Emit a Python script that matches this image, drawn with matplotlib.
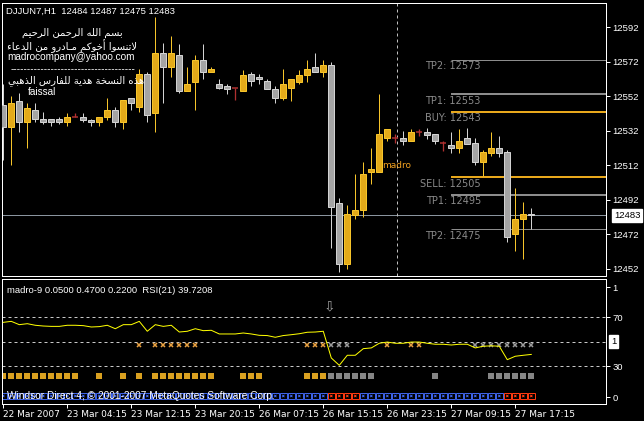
import matplotlib
matplotlib.use('Agg')
from matplotlib import pyplot as plt
import numpy as np

W, H = 644, 421

# hourly bars, DJJUN7 H1
opens  = [12547, 12534, 12549, 12537, 12544, 12539, 12539, 12539, 12537, 12540,
          12540, 12538, 12537, 12540, 12544, 12537, 12551, 12546, 12565, 12542,
          12577, 12569, 12576, 12555, 12560, 12573, 12566, 12559, 12558, 12557,
          12555, 12565, 12563, 12561, 12556, 12551, 12557, 12560, 12564, 12569,
          12566, 12570, 12490, 12455, 12483, 12486, 12508, 12508, 12528, 12528,
          12528, 12526, 12531, 12531.5, 12530, 12525, 12524, 12522, 12527.5, 12525,
          12514, 12519, 12522, 12519.5, 12472, 12481, 12484]
highs  = [12559, 12552, 12554, 12548, 12548, 12543, 12539, 12540, 12542, 12542,
          12542, 12539, 12540, 12551, 12546, 12550, 12551, 12568, 12566, 12598,
          12583, 12587, 12582, 12569, 12576, 12582, 12569, 12562, 12559, 12557,
          12567, 12566, 12565, 12562, 12558, 12568, 12562, 12567, 12573, 12577,
          12573, 12572, 12493, 12489, 12507, 12514, 12522, 12553, 12533, 12530,
          12532, 12533, 12533, 12533.5, 12530, 12526, 12531, 12533, 12533.5, 12527.5,
          12521, 12531, 12529, 12521, 12499, 12490.5, 12487]
lows   = [12515, 12512, 12531, 12522, 12537, 12536, 12535, 12536, 12535, 12540,
          12537, 12535, 12535, 12538, 12534, 12533, 12544, 12543, 12537, 12531,
          12548, 12563, 12554, 12555, 12544, 12562, 12566, 12556, 12553, 12550,
          12555, 12558, 12559, 12556, 12548, 12550, 12549, 12559, 12560, 12566,
          12563, 12464, 12450, 12452, 12481, 12482, 12501, 12508, 12526, 12525,
          12524, 12526, 12529, 12527, 12524.5, 12520, 12519, 12519, 12524.5, 12512,
          12506, 12517.5, 12516.5, 12467.5, 12462, 12457.5, 12475]
closes = [12534, 12548, 12537, 12545, 12539, 12537, 12537, 12537, 12540, 12540,
          12538, 12537, 12540, 12544, 12537, 12550, 12548, 12565, 12541, 12577,
          12569, 12577, 12555, 12559, 12573, 12566, 12568, 12557, 12556, 12557,
          12564, 12561, 12562, 12556, 12551, 12559, 12562, 12564, 12568, 12566,
          12570, 12488, 12455, 12484, 12486, 12507, 12510, 12530, 12533, 12528,
          12526, 12531, 12531, 12529.5, 12526, 12525, 12522, 12526, 12524.5, 12514,
          12519.5, 12522, 12519, 12470.5, 12481, 12483.5, 12483]

rsi = [65.9, 66.7, 64.0, 64.8, 63.5, 62.9, 62.6, 62.6, 63.5, 63.5,
       63.2, 62.1, 62.4, 63.5, 60.7, 64.0, 64.0, 66.7, 58.6, 64.0,
       62.6, 63.5, 58.0, 58.6, 60.7, 59.1, 59.4, 56.4, 56.4, 56.4,
       57.2, 56.4, 55.3, 55.1, 53.7, 55.1, 55.8, 56.6, 57.8, 58.0,
       58.6, 36.8, 30.8, 39.0, 39.0, 44.4, 45.0, 48.8, 49.8, 48.8,
       48.8, 49.8, 49.8, 48.8, 48.0, 48.0, 47.4, 48.0, 48.0, 45.0,
       46.4, 46.7, 46.4, 35.4, 38.2, 39.0, 39.7]

x_orange = [17, 19, 20, 21, 22, 23, 24, 38, 39, 40, 48, 51, 52]
x_grey = [41, 42, 43, 59, 60, 61, 62, 63, 64, 65, 66]
sq_orange = [0, 1, 2, 3, 4, 5, 6, 7, 8, 9, 12, 15, 17, 19, 20, 21, 22, 23, 24, 25, 26,
             30, 31, 32, 38, 39, 40]
sq_grey = [41, 42, 43, 44, 45, 46, 54, 61, 62, 63, 64, 65, 66]
row_red = [41, 42, 43, 44, 63, 64, 65, 66]

time_ticks = [0, 8, 16, 24, 32, 40, 48, 56, 64]
time_labels = ['22 Mar 2007', '23 Mar 04:15', '23 Mar 12:15', '23 Mar 20:15', '26 Mar 07:15',
               '26 Mar 15:15', '26 Mar 23:15', '27 Mar 09:15', '27 Mar 17:15']
price_ticks = [12452, 12472, 12492, 12512, 12532, 12552, 12572, 12592]
level_names = ['TP2', 'TP1', 'BUY', 'SELL', 'TP1', 'TP2']
level_prices = [12573, 12553, 12543, 12505, 12495, 12475]

GOLD_F, GOLD_E = '#E3AA1A', '#F6C42A'
GREY_F, GREY_E = '#A4A4A4', '#D2D2D2'
DOJI = '#B03030'
PX = 0.72  # one pixel in points

# --- arabic shaping (matplotlib has none) ---
AR = {
    '\u0621': ('\uFE80',),
    '\u0623': ('\uFE83', '\uFE84'),
    '\u0627': ('\uFE8D', '\uFE8E'),
    '\u0628': ('\uFE8F', '\uFE90', '\uFE91', '\uFE92'),
    '\u0629': ('\uFE93', '\uFE94'),
    '\u062A': ('\uFE95', '\uFE96', '\uFE97', '\uFE98'),
    '\u062D': ('\uFEA1', '\uFEA2', '\uFEA3', '\uFEA4'),
    '\u062E': ('\uFEA5', '\uFEA6', '\uFEA7', '\uFEA8'),
    '\u062F': ('\uFEA9', '\uFEAA'),
    '\u0630': ('\uFEAB', '\uFEAC'),
    '\u0631': ('\uFEAD', '\uFEAE'),
    '\u0633': ('\uFEB1', '\uFEB2', '\uFEB3', '\uFEB4'),
    '\u0639': ('\uFEC9', '\uFECA', '\uFECB', '\uFECC'),
    '\u0641': ('\uFED1', '\uFED2', '\uFED3', '\uFED4'),
    '\u0643': ('\uFED9', '\uFEDA', '\uFEDB', '\uFEDC'),
    '\u0644': ('\uFEDD', '\uFEDE', '\uFEDF', '\uFEE0'),
    '\u0645': ('\uFEE1', '\uFEE2', '\uFEE3', '\uFEE4'),
    '\u0646': ('\uFEE5', '\uFEE6', '\uFEE7', '\uFEE8'),
    '\u0647': ('\uFEE9', '\uFEEA', '\uFEEB', '\uFEEC'),
    '\u0648': ('\uFEED', '\uFEEE'),
    '\u064A': ('\uFEF1', '\uFEF2', '\uFEF3', '\uFEF4'),
    '\u0640': ('\u0640', '\u0640', '\u0640', '\u0640'),
}
LAM_ALEF = {'\u0627': ('\uFEFB', '\uFEFC'), '\u0623': ('\uFEF7', '\uFEF8')}

def shape_ar(s):
    out = []
    i = 0
    while i < len(s):
        c = s[i]
        prev = s[i-1] if i > 0 else ''
        joined = len(AR.get(prev, ())) == 4
        if c == '\u0644' and i + 1 < len(s) and s[i+1] in LAM_ALEF:
            out.append(LAM_ALEF[s[i+1]][1 if joined else 0])
            i += 2
            continue
        if c not in AR:
            out.append(c)
            i += 1
            continue
        f = AR[c]
        nxt = s[i+1] if i + 1 < len(s) else ''
        to_next = len(f) == 4 and len(AR.get(nxt, ())) >= 2
        if len(f) == 1:
            g = f[0]
        elif len(f) == 2:
            g = f[1] if joined else f[0]
        else:
            g = f[3] if (joined and to_next) else f[1] if joined else f[2] if to_next else f[0]
        out.append(g)
        i += 1
    return ''.join(out[::-1])

def fx(px):
    return px / W

def fy(py):
    return 1 - py / H

fig = plt.figure(figsize=(W/100, H/100), dpi=100, facecolor='black')
ax = fig.add_axes([fx(2), fy(276), 604/W, 273/H], facecolor='black')
ind = fig.add_axes([fx(2), fy(404), 604/W, 125/H], facecolor='black')

o = np.array(opens, float); h = np.array(highs, float)
l = np.array(lows, float); c = np.array(closes, float)
idx = np.arange(len(o))
up, dn, dj = c > o, c < o, c == o

ax.vlines(idx[up], l[up], h[up], color=GOLD_E, lw=PX, zorder=2)
ax.vlines(idx[dn], l[dn], h[dn], color=GREY_E, lw=PX, zorder=2)
ax.vlines(idx[dj], l[dj], h[dj], color=DOJI, lw=PX*1.3, zorder=2)
ax.bar(idx[up], (c-o)[up], bottom=o[up], width=0.7, color=GOLD_F, edgecolor=GOLD_E, lw=PX, zorder=3)
ax.bar(idx[dn], (o-c)[dn], bottom=c[dn], width=0.7, color=GREY_F, edgecolor=GREY_E, lw=PX, zorder=3)
ax.hlines(c[dj], idx[dj]-0.38, idx[dj]+0.38, color=DOJI, lw=PX*1.5, zorder=3)

ax.set_xlim(-0.1625, 75.34)
ax.set_ylim(12447.8, 12606.0)
ind.set_xlim(-0.1625, 75.34)
ind.set_ylim(-0.8, 101.3)

# bid line, separator, trade levels
ax.axhline(closes[-1], color='#8A949E', lw=PX, zorder=1)
ax.axvline(49.2, color='#BEBEBE', lw=PX, dashes=(3, 3), zorder=1)
for name, p in zip(level_names, level_prices):
    if name in ('BUY', 'SELL'):
        col, lw = '#E8A81C', 2*PX
    elif name == 'TP1':
        col, lw = '#8C8C8C', 2*PX
    else:
        col, lw = '#8C8C8C', PX
    ax.hlines(p, 56, 75.34, color=col, lw=lw, zorder=1)
    ax.annotate('%s: %d' % (name, p), (59.7, p), xytext=(0, -4.7), textcoords='offset points',
                ha='right', va='center', color='#8A8A8A', fontsize=7, family='DejaVu Sans')

ax.text(47.4, 12512, 'madro', color='#F0A020', fontsize=6.5, ha='left', va='center', family='DejaVu Sans')

for a in (ax, ind):
    for s in a.spines.values():
        s.set_color('white')
        s.set_linewidth(PX)

ax.yaxis.tick_right()
ax.set_yticks(price_ticks)
ax.set_yticklabels([str(p) for p in price_ticks], family='Liberation Sans')
ax.tick_params(axis='y', colors='white', length=3, width=PX, pad=1.5, labelsize=6.8)
ax.tick_params(axis='x', bottom=False, labelbottom=False)
ax.text(1.0 + 8/604, closes[-1], '%d' % closes[-1], transform=ax.get_yaxis_transform(),
        ha='left', va='center', color='black', fontsize=6.8, family='Liberation Sans',
        bbox=dict(boxstyle='square,pad=0.2', fc='white', ec='white'))

# indicator panel
for lev in (70, 50, 30):
    ind.axhline(lev, color='#C8C8C8', lw=PX, dashes=(3, 3), zorder=1)
ind.plot(idx, rsi, color='#FFFF00', lw=PX, zorder=3)
ind.plot(x_orange, [47.1]*len(x_orange), 'x', ms=3.2, mew=1.1, color='#E8A040', zorder=2)
ind.plot(x_grey, [47.1]*len(x_grey), 'x', ms=3.2, mew=1.1, color='#9A9A9A', zorder=2)
ind.plot(sq_orange, [22.3]*len(sq_orange), 's', ms=4.3, mew=0, color='#D9A020')
ind.plot(sq_grey, [22.3]*len(sq_grey), 's', ms=4.3, mew=0, color='#858585')
row_cols = ['#FF3A10' if i in row_red else '#3D62E6' for i in idx]
ind.bar(idx, 4.9, bottom=3.3, width=0.88, facecolor='none', edgecolor=row_cols, lw=PX)
ind.scatter(idx, [5.75]*len(idx), marker='x', s=3, linewidths=0.6, c=row_cols)
ind.text(40.8, 79, '\u21E9', color='#A0A0A0', fontsize=10, ha='center', va='center', family='DejaVu Sans')

ind.yaxis.tick_right()
ind.set_yticks([94.7, 70, 30, 4.9])
ind.set_yticklabels(['1', '70', '30', '0'], family='Liberation Sans')
ind.tick_params(axis='y', colors='white', length=3, width=PX, pad=1.5, labelsize=6.8)
ind.text(1.0 + 5/604, 50, '1', transform=ind.get_yaxis_transform(), ha='left', va='center',
         color='black', fontsize=6.8, family='Liberation Sans',
         bbox=dict(boxstyle='square,pad=0.2', fc='white', ec='white'))
ind.set_xticks(time_ticks)
ind.set_xticklabels(time_labels, ha='left', family='DejaVu Sans')
ind.tick_params(axis='x', colors='white', length=3, width=PX, pad=1.5, labelsize=6.5)

# texts
fig.text(fx(6), fy(11), 'DJJUN7,H1  %d %d %d %d' % (opens[-1], highs[-1], lows[-1], closes[-1]),
         color='white', fontsize=6.8, family='Liberation Sans', va='center')
fig.text(fx(7), fy(290.7), 'madro-9 0.0500 0.4700 0.2200  RSI(21) 39.7208',
         color='white', fontsize=6.8, family='Liberation Sans', va='center')
fig.text(fx(7), fy(396), 'Windsor Direct 4, \u00a9 2001-2007 MetaQuotes Software Corp.',
         color='white', fontsize=7.3, family='Liberation Sans', va='center', zorder=5)

note = [(72, 33.3, shape_ar('بسم الله الرحمن الرحيم'), 'DejaVu Sans'),
        (72, 45.7, shape_ar('لاتنسوا أخوكم مـادرو من الدعاء'), 'DejaVu Sans'),
        (71, 56.7, 'madrocompany@yahoo.com', 'Liberation Sans'),
        (72.5, 69, '-' * 37, 'Liberation Sans'),
        (76, 81, shape_ar('هذه النسخة هدية للفارس الذهبي'), 'DejaVu Sans')]
for x, y, t, fam in note:
    fig.text(fx(x), fy(y), t, color='white', fontsize=7.2, family=fam, ha='center', va='center')
fig.text(fx(28), fy(91.7), 'faissal', color='white', fontsize=7.2, family='Liberation Sans', va='center')

fig.savefig('out.png', dpi=100, facecolor='black')
